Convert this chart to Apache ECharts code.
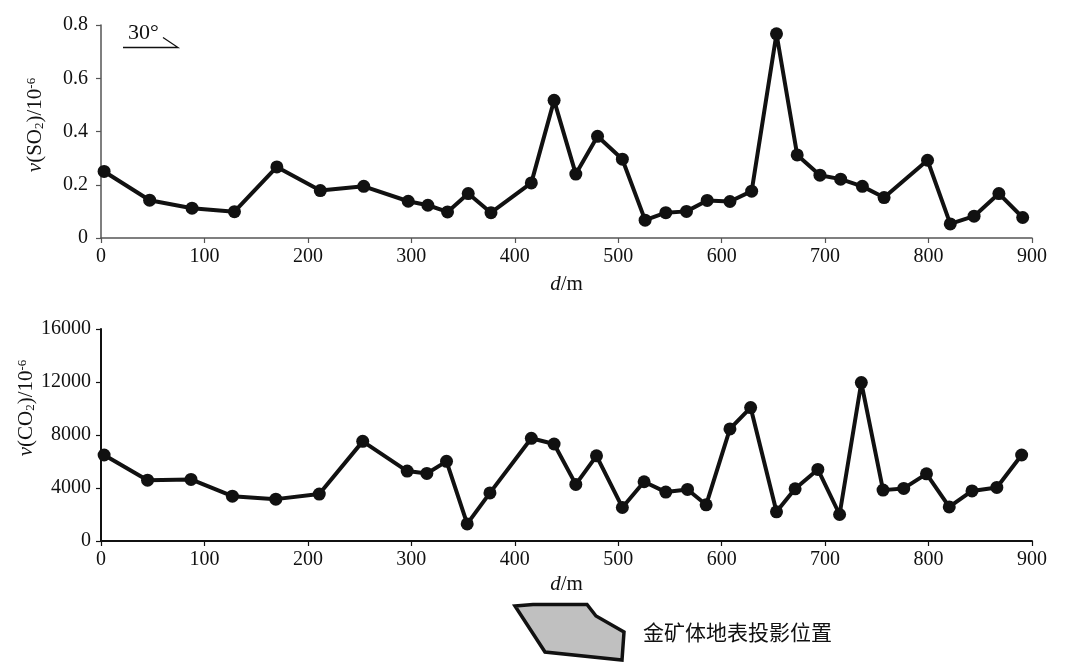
<!DOCTYPE html>
<html>
<head>
<meta charset="utf-8">
<style>
  html, body { margin: 0; padding: 0; background: #fff; }
  #main { width: 1075px; height: 669px; }
</style>
<script src="https://cdn.jsdelivr.net/npm/echarts@6/dist/echarts.min.js"></script>
</head>
<body>
<div id="main"></div>
<script>
  // SO2 剖面：距离 d/m 与 含量
  var soD = [3, 47, 88, 129, 170, 212, 254, 297, 316, 335, 355, 377, 416, 438, 459, 480, 504,
             526, 546, 566, 586, 608, 629, 653, 673, 695, 715, 736, 757, 799, 821, 844, 868, 891];
  var soV = [0.25, 0.142, 0.112, 0.099, 0.267, 0.178, 0.194, 0.138, 0.123, 0.098, 0.167, 0.095, 0.207,
             0.517, 0.24, 0.382, 0.296, 0.067, 0.095, 0.1, 0.141, 0.137, 0.176, 0.767, 0.312,
             0.236, 0.221, 0.194, 0.152, 0.292, 0.053, 0.082, 0.167, 0.077];
  // CO2 剖面
  var coD = [3, 45, 87, 127, 169, 211, 253, 296, 315, 334, 354, 376, 416, 438, 459, 479, 504, 525,
             546, 567, 585, 608, 628, 653, 671, 693, 714, 735, 756, 776, 798, 820, 842, 866, 890];
  var coV = [6490, 4590, 4650, 3380, 3160, 3540, 7520, 5280, 5100, 6010, 1290, 3630, 7750, 7320,
             4270, 6430, 2530, 4470, 3690, 3890, 2730, 8460, 10070, 2200, 3940, 5400, 2000,
             11960, 3840, 3970, 5070, 2570, 3780, 4040, 6490];

  var serif = '"Liberation Serif", "Times New Roman", serif';

  function pairs(xs, ys) {
    return xs.map(function (x, i) { return [x, ys[i]]; });
  }

  function nameRich() {
    return {
      fontFamily: serif, fontSize: 21, color: '#111',
      rich: {
        i: { fontFamily: serif, fontSize: 21, fontStyle: 'italic', color: '#111' },
        sub: { fontFamily: serif, fontSize: 13, color: '#111', verticalAlign: 'bottom', padding: [8, 0, 0, 0] },
        sup: { fontFamily: serif, fontSize: 13, color: '#111', verticalAlign: 'top', padding: [0, 0, 8, 0] }
      }
    };
  }

  function xAxisOpt(idx, lineW, lineC, gap) {
    return {
      type: 'value', gridIndex: idx, min: 0, max: 900, interval: 100,
      name: '{i|d}/m', nameLocation: 'middle', nameGap: gap, nameMoveOverlap: false,
      nameTextStyle: nameRich(),
      axisLine: { lineStyle: { color: lineC, width: lineW } },
      axisTick: { show: true, length: 5, lineStyle: { color: lineC, width: 1.2 } },
      axisLabel: { fontFamily: serif, fontSize: 20, color: '#111', margin: 9 },
      splitLine: { show: false }
    };
  }

  var myChart = echarts.init(document.getElementById('main'));

  var option = {
    animation: false,
    backgroundColor: '#fff',
    grid: [
      { left: 101, right: 43, top: 25, height: 213 },
      { left: 101, right: 43, top: 329, height: 212 }
    ],
    xAxis: [xAxisOpt(0, 1.5, '#555', 36), xAxisOpt(1, 2, '#111', 33)],
    yAxis: [
      {
        type: 'value', gridIndex: 0, min: 0, max: 0.8, interval: 0.2,
        name: '{i|v}(SO{sub|2})/10{sup|-6}', nameLocation: 'middle', nameRotate: 90, nameGap: 55,
        nameMoveOverlap: false,
        nameTextStyle: Object.assign(nameRich(), { padding: [0, 0, 0, 13] }),
        axisLine: { show: true, lineStyle: { color: '#555', width: 1.5 } },
        axisTick: { show: true, length: 5, lineStyle: { color: '#555', width: 1.2 } },
        axisLabel: {
          fontFamily: serif, fontSize: 20, color: '#111', margin: 13,
          formatter: function (v) { return v === 0 ? '0' : v.toFixed(1); }
        },
        splitLine: { show: false }
      },
      {
        type: 'value', gridIndex: 1, min: 0, max: 16000, interval: 4000,
        name: '{i|v}(CO{sub|2})/10{sup|-6}', nameLocation: 'middle', nameRotate: 90, nameGap: 64,
        nameMoveOverlap: false,
        nameTextStyle: Object.assign(nameRich(), { padding: [0, 0, 0, 54] }),
        axisLine: { show: true, lineStyle: { color: '#111', width: 2 } },
        axisTick: { show: true, length: 5, lineStyle: { color: '#111', width: 1.2 } },
        axisLabel: {
          fontFamily: serif, fontSize: 20, color: '#111', margin: 10,
          formatter: function (v) { return String(v); }
        },
        splitLine: { show: false }
      }
    ],
    series: [
      {
        type: 'line', xAxisIndex: 0, yAxisIndex: 0,
        data: pairs(soD, soV),
        symbol: 'circle', symbolSize: 13,
        lineStyle: { color: '#111', width: 4 },
        itemStyle: { color: '#111' }
      },
      {
        type: 'line', xAxisIndex: 1, yAxisIndex: 1,
        data: pairs(coD, coV),
        symbol: 'circle', symbolSize: 13,
        lineStyle: { color: '#111', width: 4 },
        itemStyle: { color: '#111' }
      }
    ],
    graphic: [
      // 30° 标记
      { type: 'text', left: 128, top: 22, style: { text: '30°', font: '22px ' + serif, fill: '#111' } },
      { type: 'polyline', shape: { points: [[123, 47.5], [178, 47.5], [163, 37.5]] },
        style: { stroke: '#111', lineWidth: 1.3, fill: null } },
      // 图例：金矿体地表投影位置
      { type: 'polygon',
        shape: { points: [[515, 606], [533, 604.5], [587, 604.5], [596, 616], [624, 632], [622, 660], [545, 652]] },
        style: { fill: '#c0c0c0', stroke: '#111', lineWidth: 3.5 } },
      { type: 'text', left: 643, top: 622,
        style: { text: '金矿体地表投影位置', font: '21px "Noto Sans CJK SC", sans-serif', fill: '#111' } }
    ]
  };

  myChart.setOption(option);

  window.addEventListener('resize', function () {
    myChart.resize();
  });
</script>
</body>
</html>
